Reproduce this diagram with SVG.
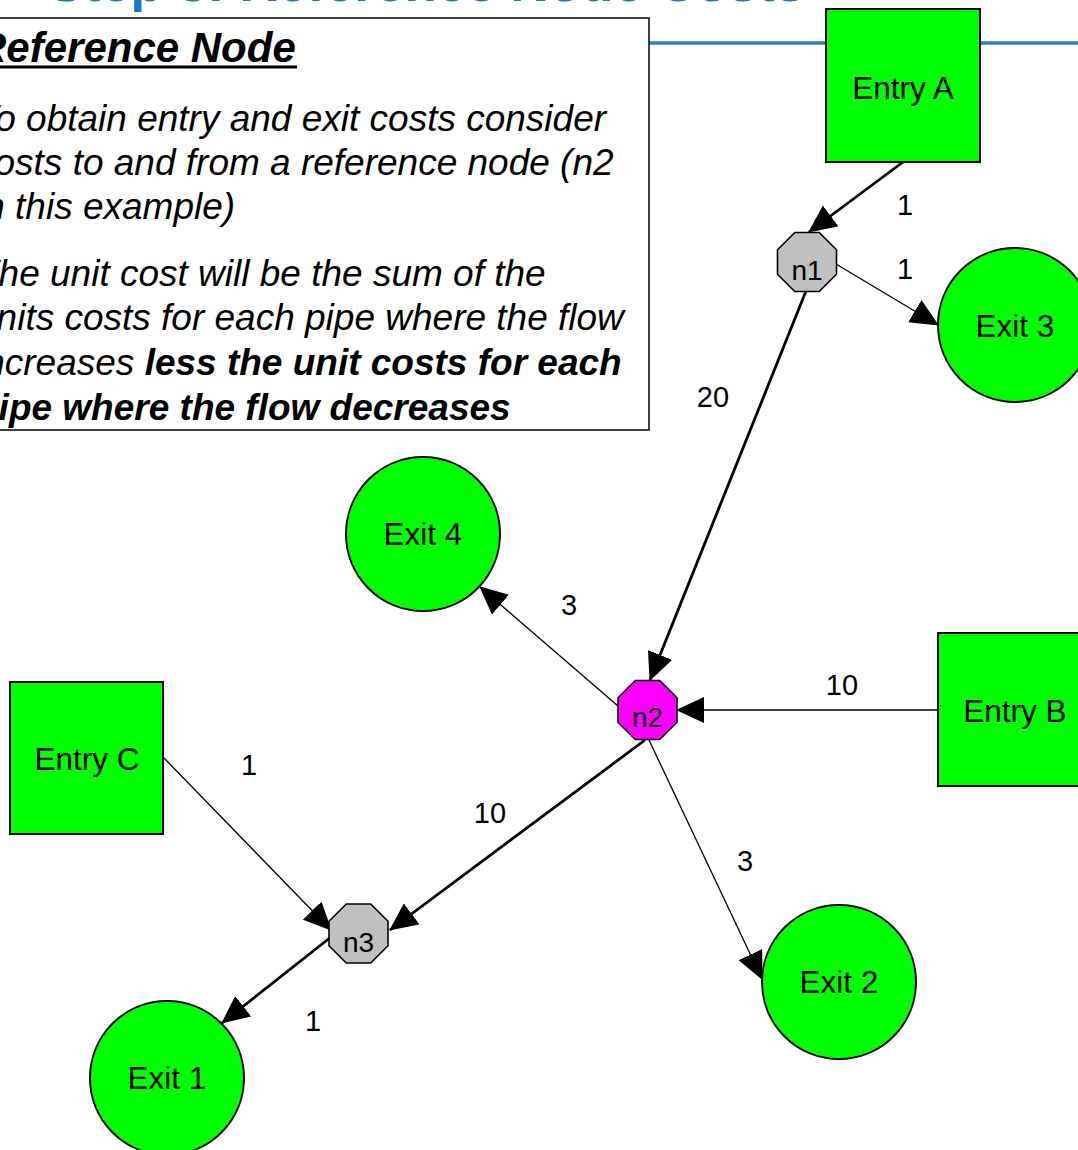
<svg xmlns="http://www.w3.org/2000/svg" xmlns:xlink="http://www.w3.org/1999/xlink" width="1078" height="1150" viewBox="0 0 1078 1150">
  <style>
    .title { font-family: "Liberation Sans", Arial, sans-serif; font-weight: bold; font-size: 53px; fill: #1479c6; }
    .note { font-family: "Liberation Sans", Arial, sans-serif; font-style: italic; font-size: 37px; fill: #000; }
    .note-head { font-family: "Liberation Sans", Arial, sans-serif; font-style: italic; font-weight: bold; font-size: 42px; fill: #000; }
    .b { font-weight: bold; }
    .entry { fill: #00ff00; stroke: #000; stroke-width: 2; }
    .exit { fill: #00ff00; stroke: #000; stroke-width: 2; }
    .junction { fill: #c0c0c0; stroke: #000; stroke-width: 1.6; }
    .ref { fill: #ff00ff; stroke: #000; stroke-width: 1.6; }
    .label { font-family: "Liberation Sans", Arial, sans-serif; font-size: 31.5px; fill: #000; text-anchor: middle; }
    .nlabel { font-family: "Liberation Sans", Arial, sans-serif; font-size: 28px; fill: #000; text-anchor: middle; }
    .cost { font-family: "Liberation Sans", Arial, sans-serif; font-size: 29px; fill: #000; text-anchor: middle; }
    .pipe { fill: none; stroke: #000; marker-end: url(#arrow); }
    .thick { stroke-width: 2.8; }
    .thin { stroke-width: 1.3; }
  </style>
  <defs>
    <marker id="arrow" viewBox="0 0 28 26" refX="27" refY="13" markerWidth="28" markerHeight="26" markerUnits="userSpaceOnUse" orient="auto">
      <path d="M0,0 L28,13 L0,26 Z" fill="#000"/>
    </marker>
    <polygon id="oct" points="-12.2,-29.5 12.2,-29.5 29.5,-12.2 29.5,12.2 12.2,29.5 -12.2,29.5 -29.5,12.2 -29.5,-12.2"/>
  </defs>

  <rect x="0" y="0" width="1078" height="1150" fill="#fff"/>

  <!-- slide heading, mostly above the top edge -->
  <text class="title" x="48" y="1">Step 3: Reference Node Costs</text>
  <line x1="640" y1="43" x2="1078" y2="43" stroke="#2f7ec8" stroke-width="3.5"/>

  <!-- explanatory note -->
  <g id="note">
    <rect x="-4" y="18" width="653" height="412" fill="#fff" stroke="#000" stroke-width="1.5"/>
    <text class="note-head" x="-24" y="62">Reference Node</text>
    <line x1="-4" y1="67" x2="297" y2="67" stroke="#000" stroke-width="3"/>
    <text class="note" x="-24" y="131">To obtain entry and exit costs consider</text>
    <text class="note" x="-24" y="175">costs to and from a reference node (n2</text>
    <text class="note" x="-24" y="219">in this example)</text>
    <text class="note" x="-24" y="286">The unit cost will be the sum of the</text>
    <text class="note" x="-24" y="330">units costs for each pipe where the flow</text>
    <text class="note" x="-24" y="375">increases <tspan class="b">less the unit costs for each</tspan></text>
    <text class="note b" x="-24" y="420">pipe where the flow decreases</text>
  </g>

  <!-- pipes -->
  <g id="connectors">
    <line class="pipe thick" x1="903" y1="162" x2="809" y2="232"/>
    <line class="pipe thin" x1="836" y1="264" x2="938" y2="325"/>
    <line class="pipe thick" x1="806" y1="291" x2="650" y2="680"/>
    <line class="pipe thin" x1="618" y1="706" x2="480" y2="587"/>
    <line class="pipe thin" x1="938" y1="710" x2="677" y2="710"/>
    <line class="pipe thick" x1="645" y1="740" x2="390" y2="930"/>
    <line class="pipe thin" x1="649" y1="740" x2="762" y2="979"/>
    <line class="pipe thin" x1="164" y1="758" x2="331" y2="930"/>
    <line class="pipe thick" x1="331" y1="937" x2="222" y2="1023"/>

    <text class="cost" x="905" y="215">1</text>
    <text class="cost" x="905" y="279">1</text>
    <text class="cost" x="713" y="407">20</text>
    <text class="cost" x="569" y="615">3</text>
    <text class="cost" x="842" y="695">10</text>
    <text class="cost" x="490" y="823">10</text>
    <text class="cost" x="745" y="871">3</text>
    <text class="cost" x="249" y="775">1</text>
    <text class="cost" x="313" y="1031">1</text>
  </g>

  <!-- nodes -->
  <g id="entry-a">
    <rect class="entry" x="826" y="9" width="154" height="153"/>
    <text class="label" x="903" y="99">Entry A</text>
  </g>
  <g id="entry-b">
    <rect class="entry" x="938" y="633" width="154" height="153"/>
    <text class="label" x="1015" y="722">Entry B</text>
  </g>
  <g id="entry-c">
    <rect class="entry" x="10" y="682" width="153" height="152"/>
    <text class="label" x="87" y="770">Entry C</text>
  </g>
  <g id="n1">
    <use xlink:href="#oct" href="#oct" class="junction" transform="translate(807,262)"/>
    <text class="nlabel" x="807" y="280">n1</text>
  </g>
  <g id="n2">
    <use xlink:href="#oct" href="#oct" class="ref" transform="translate(647.5,710)"/>
    <text class="nlabel" x="647.5" y="727">n2</text>
  </g>
  <g id="n3">
    <use xlink:href="#oct" href="#oct" class="junction" transform="translate(358.5,933.5)"/>
    <text class="nlabel" x="358.5" y="952">n3</text>
  </g>
  <g id="exit-1">
    <circle class="exit" cx="167" cy="1078" r="77"/>
    <text class="label" x="167" y="1089">Exit 1</text>
  </g>
  <g id="exit-2">
    <circle class="exit" cx="839" cy="982" r="77"/>
    <text class="label" x="839" y="993">Exit 2</text>
  </g>
  <g id="exit-3">
    <circle class="exit" cx="1015" cy="325" r="77"/>
    <text class="label" x="1015" y="337">Exit 3</text>
  </g>
  <g id="exit-4">
    <circle class="exit" cx="423" cy="534" r="77"/>
    <text class="label" x="423" y="545">Exit 4</text>
  </g>
</svg>
